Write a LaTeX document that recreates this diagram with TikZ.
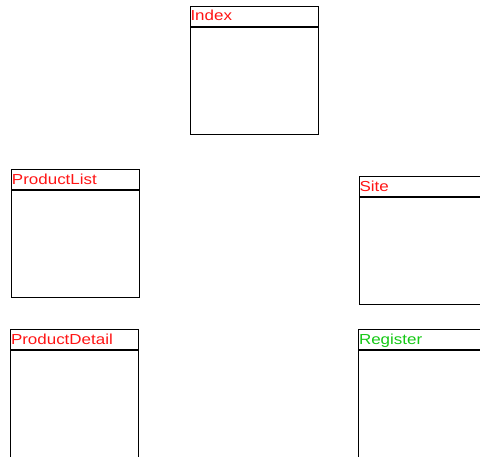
\documentclass[tikz,border=0pt]{standalone}
\usepackage{fontspec}
\setmainfont{Liberation Sans}
\newfontfamily\ttlfont[FakeStretch=1.17]{Liberation Sans}
\definecolor{ttlred}{RGB}{255,20,20}
\definecolor{ttlgreen}{RGB}{20,200,20}
\begin{document}
\begin{tikzpicture}[x=1pt,y=-1pt,
  cls/.style={draw=black, line width=1pt, minimum width=128pt, minimum height=128pt, anchor=north west, inner sep=0pt, outer sep=0pt},
  ttl/.style={anchor=base west, inner sep=0pt, font=\ttlfont\fontsize{14.5}{16}\selectfont, text=ttlred},
  hdr/.style={draw=black, line width=2pt}]
\useasboundingbox (0,0) rectangle (480,457);
\clip (0,0) rectangle (480,457);
% Index
\node[cls] (index) at (190,6.5) {};
\draw[hdr] ([yshift=-20.5pt]index.north west) -- ([yshift=-20.5pt]index.north east);
\node[ttl] (indext) at ([xshift=0.3pt,yshift=-14.5pt]index.north west) {Index};
% ProductList
\node[cls] (plist) at (11.5,169.5) {};
\draw[hdr] ([yshift=-21pt]plist.north west) -- ([yshift=-21pt]plist.north east);
\node[ttl] (plistt) at ([xshift=0.3pt,yshift=-15pt]plist.north west) {ProductList};
% Site
\node[cls] (site) at (359,176.5) {};
\draw[hdr] ([yshift=-21pt]site.north west) -- ([yshift=-21pt]site.north east);
\node[ttl] (sitet) at ([xshift=0.3pt,yshift=-15pt]site.north west) {Site};
% ProductDetail
\node[cls] (pdetail) at (10.5,329.5) {};
\draw[hdr] ([yshift=-21pt]pdetail.north west) -- ([yshift=-21pt]pdetail.north east);
\node[ttl] (pdetailt) at ([xshift=0.3pt,yshift=-15pt]pdetail.north west) {ProductDetail};
% Register
\node[cls] (register) at (358.5,329.5) {};
\draw[hdr] ([yshift=-21pt]register.north west) -- ([yshift=-21pt]register.north east);
\node[ttl, text=ttlgreen] (registert) at ([xshift=0.3pt,yshift=-15pt]register.north west) {Register};
\end{tikzpicture}
\end{document}
